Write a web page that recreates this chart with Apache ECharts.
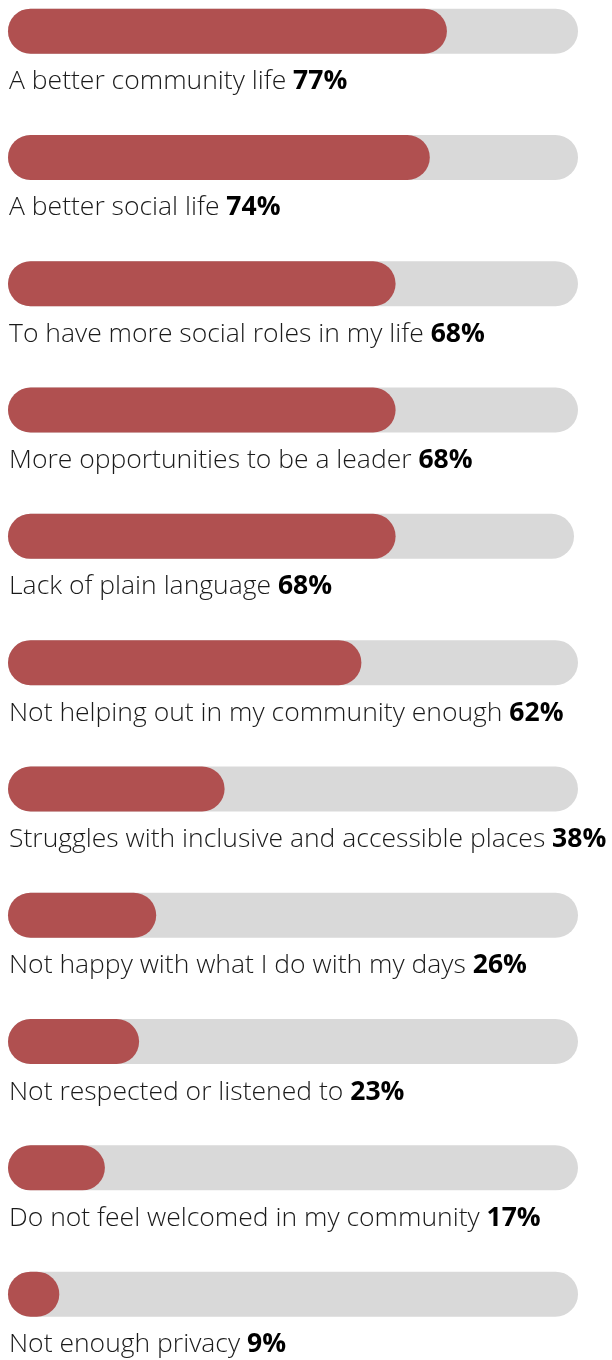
<!DOCTYPE html>
<html><head><meta charset="utf-8">
<script src="https://cdn.jsdelivr.net/npm/echarts@6/dist/echarts.min.js"></script>
<style>html,body{margin:0;padding:0;background:#fff;overflow:hidden;width:612px;height:1360px}#c{position:absolute;left:0;top:-31.65px;width:612px;height:1392px}</style>
</head><body><div id="c"></div>
<script>
const categories = [
  "A better community life",
  "A better social life",
  "To have more social roles in my life",
  "More opportunities to be a leader",
  "Lack of plain language",
  "Not helping out in my community enough",
  "Struggles with inclusive and accessible places",
  "Not happy with what I do with my days",
  "Not respected or listened to",
  "Do not feel welcomed in my community",
  "Not enough privacy"
];
const values = [77, 74, 68, 68, 68, 62, 38, 26, 23, 17, 9];
const trackMax = [100, 100, 100, 100, 99.3, 100, 100, 100, 100, 100, 100];

const chart = echarts.init(document.getElementById('c'));
chart.setOption({
  animation: false,
  grid: { left: 8, right: 34, top: 0, height: 1389.3 },
  xAxis: { type: 'value', min: 0, max: 100, show: false },
  yAxis: { type: 'category', data: categories, inverse: true, show: false },
  series: [
    {
      type: 'bar', data: trackMax, barWidth: 45, barGap: '-100%',
      itemStyle: { color: '#d9d9d9', borderRadius: 22.5 },
      silent: true,
      label: {
        show: true, position: [1, '100%'], distance: 0, align: 'left', verticalAlign: 'middle',
        offset: [0, 28],
        formatter: p => '{n|' + categories[p.dataIndex] + '\u00a0}{b|' + values[p.dataIndex] + '%}',
        rich: {
          n: { fontFamily: 'Open Sans', fontSize: 26.5, fontWeight: 300, color: '#1a1a1a' },
          b: { fontFamily: 'Open Sans', fontSize: 26.5, fontWeight: 'bold', color: '#000' }
        }
      }
    },
    {
      type: 'bar', data: values, barWidth: 45, barGap: '-100%', z: 3,
      itemStyle: { color: '#b05050', borderRadius: 22.5 }
    }
  ]
});
</script></body></html>
